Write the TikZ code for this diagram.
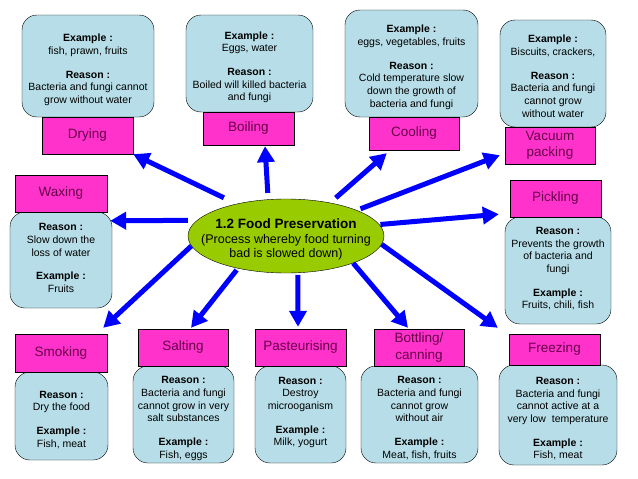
\documentclass[tikz,border=0pt]{standalone}
\usepackage{fontspec}
\setmainfont{Liberation Sans}
\usetikzlibrary{shapes.geometric,arrows.meta,calc}
\definecolor{infoblue}{RGB}{183,222,232}
\definecolor{tagpink}{RGB}{255,51,204}
\definecolor{tagtext}{RGB}{102,0,72}
\definecolor{arrowblue}{RGB}{0,0,255}
\definecolor{hubgreen}{RGB}{153,204,0}
\newcommand{\infofont}{\fontsize{10.5}{12.7}\selectfont}
\newcommand{\tagfont}{\fontsize{13.5}{16.5}\selectfont}
\newcommand{\infolines}[1]{\begin{tabular}{@{}c@{}}\rule{0pt}{17pt}#1\end{tabular}}

\begin{document}
\begin{tikzpicture}[x=1pt, y=-1pt,
  boxsize/.style 2 args={minimum width=#1pt, minimum height=#2pt},
  info/.style={draw, rounded corners=15pt, fill=infoblue, inner sep=0pt, font=\infofont},
  tag/.style={draw, fill=tagpink, text=tagtext, align=center, inner sep=0pt, font=\tagfont},
  link/.style={draw=arrowblue, line width=5pt, -{Triangle[length=16pt,width=17pt]}}]
  \useasboundingbox (0,0) rectangle (638,479);

  % Centre
  \node[ellipse, draw, fill=hubgreen, boxsize={196}{74}, inner sep=-20pt, align=center,
        font=\fontsize{12.5}{14.5}\selectfont] (hub) at (286,236)
    {{\fontsize{13.5}{16}\selectfont\bfseries\rule{0pt}{17pt}1.2 Food Preservation}\\
     (Process whereby food turning\\ bad is slowed down)};

  % Top row
  \node[info, boxsize={132}{102}] (dryinfo) at (88,66)
    {\infolines{\textbf{Example :}\\ fish, prawn, fruits\\[11pt]
      \textbf{Reason :}\\ Bacteria and fungi cannot\\ grow without water}};
  \node[tag, boxsize={91}{37}] (dry) at (87.5,135.5) {Drying};

  \node[info, boxsize={127}{97}] (boilinfo) at (249.5,63.5)
    {\infolines{\textbf{Example :}\\ Eggs, water\\[11pt]
      \textbf{Reason :}\\ Boiled will killed bacteria\\ and fungi}};
  \node[tag, boxsize={91}{33}] (boil) at (248.5,128.5) {Boiling};

  \node[info, boxsize={133}{107}] (coolinfo) at (411.5,63.5)
    {\infolines{\textbf{Example :}\\ eggs, vegetables, fruits\\[11pt]
      \textbf{Reason :}\\ Cold temperature slow\\ down the growth of\\ bacteria and fungi}};
  \node[tag, boxsize={90}{33}] (cool) at (414,133.5) {Cooling};

  \node[info, boxsize={106}{107}] (vacinfo) at (553,73.5)
    {\infolines{\textbf{Example :}\\ Biscuits, crackers,\\[11pt]
      \textbf{Reason :}\\ Bacteria and fungi\\ cannot grow\\ without water}};
  \node[tag, boxsize={90}{37}] (vac) at (550,145.5) {Vacuum\\ packing};

  % Middle row
  \node[info, boxsize={102}{96}] (waxinfo) at (61,260)
    {\infolines{\textbf{Reason :}\\ Slow down the\\ loss of water\\[11pt]
      \textbf{Example :}\\ Fruits\\[10pt]}};
  \node[tag, boxsize={92}{37}] (wax) at (61,193.5) {Waxing};

  \node[info, boxsize={106}{107}] (pickinfo) at (558,270.5)
    {\infolines{\textbf{Reason :}\\ Prevents the growth\\ of bacteria and\\ fungi\\[11pt]
      \textbf{Example :}\\ Fruits, chili, fish\\[11pt]}};
  \node[tag, boxsize={91}{37}] (pick) at (555.5,198.5) {Pickling};

  % Bottom row
  \node[info, boxsize={93}{88}] (smokeinfo) at (61.5,416)
    {\infolines{\textbf{Reason :}\\ Dry the food\\[11pt]
      \textbf{Example :}\\ Fish, meat}};
  \node[tag, boxsize={92}{38}] (smoke) at (61,353) {Smoking};

  \node[info, boxsize={101}{97}] (saltinfo) at (183.5,414.5)
    {\infolines{\textbf{Reason :}\\ Bacteria and fungi\\ cannot grow in very\\ salt substances\\[11pt]
      \textbf{Example :}\\ Fish, eggs}};
  \node[tag, boxsize={90}{37}] (salt) at (183,347.5) {Salting};

  \node[info, boxsize={91}{97}] (pastinfo) at (300.5,414.5)
    {\infolines{\textbf{Reason :}\\ Destroy\\ microoganism\\[11pt]
      \textbf{Example :}\\ Milk, yogurt\\[12pt]}};
  \node[tag, boxsize={91}{37}] (past) at (300.5,347.5) {Pasteurising};

  \node[info, boxsize={117}{97}] (bottinfo) at (419.5,414.5)
    {\infolines{\textbf{Reason :}\\ Bacteria and fungi\\ cannot grow\\ without air\\[11pt]
      \textbf{Example :}\\ Meat, fish, fruits}};
  \node[tag, boxsize={90}{37}] (bott) at (419,347.5) {Bottling/\\ canning};

  \node[info, boxsize={118}{100}] (freezeinfo) at (558,415)
    {\infolines{\textbf{Reason :}\\ Bacteria and fungi\\ cannot active at a\\ very low\ \ temperature\\[11pt]
      \textbf{Example :}\\ Fish, meat}};
  \node[tag, boxsize={91}{31}] (freeze) at (554.5,349.5) {Freezing};

  % Arrows out of the centre
  \draw[link, shorten <=14pt] (hub.147.6) -- (dry.south east);
  \draw[link, shorten <=6.5pt] (hub.116.3) -- ($(boil.south)+(16.5,1)$);
  \draw[link, shorten <=7.5pt] (hub.37.5) -- ($(cool.south west)+(18,3)$);
  \draw[link, shorten <=4pt] (hub.20) -- ($(vac.south west)+(-5,-9)$);
  \draw[link, shorten <=1pt] (hub.7.3) -- ($(pick.south west)+(-11,-3)$);
  \draw[link, shorten <=9pt] (hub.170.5) -- ($(waxinfo.north east)+(-2,9)$);
  \draw[link] (hub.186.2) -- ($(smoke.north east)+(-4,-6)$);
  \draw[link, shorten <=2pt] (hub.214.7) -- ($(salt.north)+(8,-1)$);
  \draw[link, shorten <=2pt] (hub.288) -- ($(past.north)+(-2.5,-2)$);
  \draw[link] (hub.338) -- ($(bott.north)+(-11,-1)$);
  \draw[link] (hub.355.8) -- ($(freeze.north west)+(-11,-6)$);
\end{tikzpicture}
\end{document}
